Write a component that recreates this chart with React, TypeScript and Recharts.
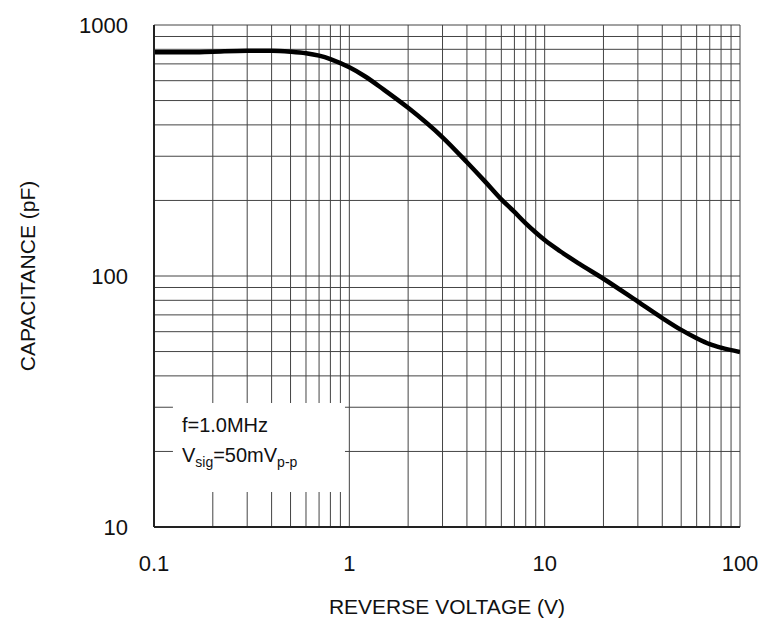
import { LineChart, Line, XAxis, YAxis, CartesianGrid, ReferenceArea } from "recharts";

const voltage = [0.1, 0.15, 0.2, 0.3, 0.4, 0.5, 0.6, 0.7, 0.8, 1, 1.2, 1.5, 2, 3, 4, 5, 6, 7, 8, 9, 10, 12, 15, 20, 30, 40, 50, 60, 70, 80, 100];
const capacitance = [778, 778, 783, 790, 790, 783, 772, 755, 732, 678, 625, 553, 468, 357, 284, 236, 202, 180, 162, 149, 139, 125.5, 112, 97.5, 79, 68, 61, 56.5, 53.5, 51.8, 49.8];

const xTicks = [
  0.1, 0.2, 0.3, 0.4, 0.5, 0.6, 0.7, 0.8, 0.9,
  1, 2, 3, 4, 5, 6, 7, 8, 9,
  10, 20, 30, 40, 50, 60, 70, 80, 90, 100,
];
const yTicks = [10, 20, 30, 40, 50, 60, 70, 80, 90, 100, 200, 300, 400, 500, 600, 700, 800, 900, 1000];
const xLabels = [0.1, 1, 10, 100];
const yLabels = [10, 100, 1000];

const data = voltage.map((v, i) => ({ v, c: capacitance[i] }));

const font = "'Liberation Sans', Arial, sans-serif";

function NoteLabel(props: any) {
  const { x, y } = props.viewBox;
  return (
    <text x={x + 9} y={y + 29} fontFamily={font} fontSize={20} fill="#111">
      <tspan x={x + 9}>f=1.0MHz</tspan>
      <tspan x={x + 9} dy={30}>V</tspan>
      <tspan fontSize={14} dy={5}>sig</tspan>
      <tspan dy={-5}>=50mV</tspan>
      <tspan fontSize={14} dy={5}>p-p</tspan>
    </text>
  );
}

export default function App() {
  return (
    <div style={{ position: "absolute", left: 0, top: 0, background: "#fff" }}>
      <LineChart
        width={775}
        height={620}
        data={data}
        margin={{ top: 25, right: 35, bottom: 0, left: 0 }}
      >
        <CartesianGrid stroke="#444" strokeWidth={1} />
        <XAxis
          dataKey="v"
          type="number"
          scale="log"
          domain={[0.1, 100]}
          ticks={xTicks}
          interval={0}
          allowDataOverflow
          height={93}
          tickLine={false}
          tickSize={0}
          tickMargin={28}
          axisLine={{ stroke: "#222", strokeWidth: 2 }}
          tick={{ fontSize: 22, fill: "#111", fontFamily: font }}
          tickFormatter={(t: number) => (xLabels.includes(t) ? String(t) : "")}
          label={{
            value: "REVERSE VOLTAGE (V)",
            position: "insideBottom",
            offset: 6,
            style: { fontSize: 21, fill: "#111", fontFamily: font },
          }}
        />
        <YAxis
          type="number"
          scale="log"
          domain={[10, 1000]}
          ticks={yTicks}
          interval={0}
          allowDataOverflow
          width={154}
          tickLine={false}
          tickSize={0}
          tickMargin={26}
          axisLine={{ stroke: "#222", strokeWidth: 2 }}
          tick={{ fontSize: 22, fill: "#111", fontFamily: font }}
          tickFormatter={(t: number) => (yLabels.includes(t) ? String(t) : "")}
          label={{
            value: "CAPACITANCE (pF)",
            angle: -90,
            position: "insideLeft",
            offset: 28,
            style: { fontSize: 21, fill: "#111", fontFamily: font, textAnchor: "middle" },
          }}
        />
        <ReferenceArea
          x1={0.125}
          x2={0.95}
          y1={13.8}
          y2={31.2}
          fill="#fff"
          fillOpacity={1}
          stroke="none"
          label={<NoteLabel />}
        />
        <Line
          dataKey="c"
          type="monotone"
          stroke="#000"
          strokeWidth={4.5}
          dot={false}
          isAnimationActive={false}
        />
      </LineChart>
    </div>
  );
}
